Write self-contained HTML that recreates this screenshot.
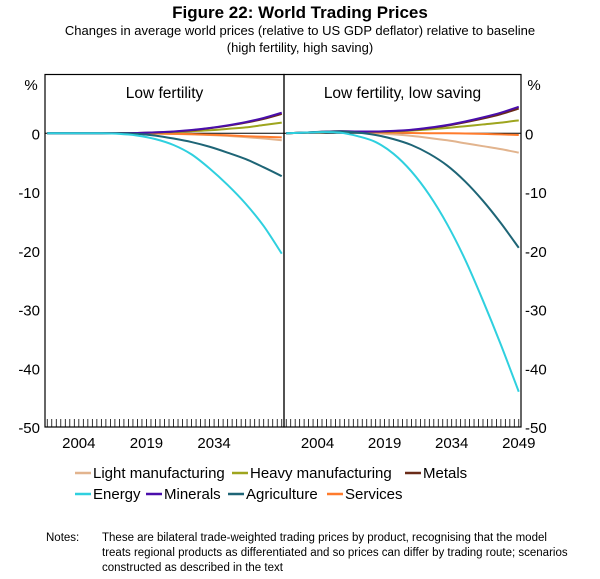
<!DOCTYPE html>
<html><head><meta charset="utf-8"><style>
body{margin:0;background:#fff;width:600px;height:574px;overflow:hidden;font-family:"Liberation Sans",Arial,sans-serif;}
</style></head><body>
<svg id="c" width="600" height="574" viewBox="0 0 600 574" style="font-family:'Liberation Sans',Arial,sans-serif">
<text x="300" y="18" text-anchor="middle" font-size="17" font-weight="bold" fill="#000">Figure 22: World Trading Prices</text>
<text x="300" y="35" text-anchor="middle" font-size="13" fill="#000">Changes in average world prices (relative to US GDP deflator) relative to baseline</text>
<text x="300" y="52" text-anchor="middle" font-size="13" fill="#000">(high fertility, high saving)</text>
<g id="plot"></g>
<g id="legend"></g>
<text x="46" y="541" font-size="11.5" fill="#000">Notes:</text>
<text x="102" y="541" font-size="11.5" fill="#000">These are bilateral trade-weighted trading prices by product, recognising that the model</text>
<text x="102" y="556" font-size="11.5" fill="#000">treats regional products as differentiated and so prices can differ by trading route; scenarios</text>
<text x="102" y="571" font-size="11.5" fill="#000">constructed as described in the text</text>
</svg>
<script>
const years=[1997,2001,2005,2009,2013,2017,2021,2025,2029,2033,2037,2041,2045,2049];
const yTicks=[0,-10,-20,-30,-40,-50];
const xLabelsLeft=[2004,2019,2034];
const xLabelsRight=[2004,2019,2034,2049];
const seriesNames=["Light manufacturing","Heavy manufacturing","Metals","Energy","Minerals","Agriculture","Services"];
const seriesColors=["#e2b48e","#9ea51e","#6a2b18","#2fd0df","#4a0eab","#1e6576","#ff7b2c"];
const leftLight=[0,0,0,0,0,0,-0.05,-0.1,-0.2,-0.3,-0.45,-0.65,-0.9,-1.2];
const leftHeavy=[0,0,0,0,0,0,0.1,0.2,0.35,0.5,0.75,1.0,1.4,1.8];
const leftMetals=[0,0,0,0,0,0.05,0.14,0.28,0.5,0.85,1.28,1.8,2.45,3.3];
const leftEnergy=[0,0,0,0,-0.1,-0.4,-1.0,-2.0,-3.6,-6.0,-8.8,-12,-15.8,-20.5];
const leftMinerals=[0,0,0,0,0,0.05,0.15,0.3,0.55,0.9,1.35,1.9,2.6,3.5];
const leftAgri=[0,0,0,0,0,-0.1,-0.4,-0.9,-1.5,-2.3,-3.3,-4.4,-5.8,-7.3];
const leftServices=[0,0,0,0,0,0,-0.05,-0.1,-0.15,-0.25,-0.35,-0.5,-0.6,-0.7];
const rightLight=[0,0.1,0.2,0.25,0.15,0,-0.2,-0.45,-0.8,-1.2,-1.7,-2.2,-2.7,-3.3];
const rightHeavy=[0,0.1,0.2,0.3,0.25,0.25,0.3,0.45,0.65,0.9,1.2,1.5,1.8,2.2];
const rightMetals=[0,0.1,0.23,0.33,0.28,0.28,0.37,0.56,0.88,1.3,1.86,2.5,3.25,4.2];
const rightEnergy=[0,0.1,0.2,0.1,-0.5,-1.5,-3.5,-6.5,-10.5,-15.5,-21.5,-28.5,-36,-44];
const rightMinerals=[0,0.1,0.25,0.35,0.3,0.3,0.4,0.6,0.95,1.4,2.0,2.7,3.5,4.5];
const rightAgri=[0,0.1,0.25,0.3,0.1,-0.3,-1.0,-2.0,-3.5,-5.5,-8.2,-11.5,-15.3,-19.5];
const rightServices=[0,0.1,0.2,0.25,0.2,0.15,0.1,0.05,0,0,-0.05,-0.1,-0.2,-0.3];
const leftData=[leftLight,leftHeavy,leftMetals,leftEnergy,leftMinerals,leftAgri,leftServices];
const rightData=[rightLight,rightHeavy,rightMetals,rightEnergy,rightMinerals,rightAgri,rightServices];
const drawOrder=[0,6,1,2,4,5,3];

const NS="http://www.w3.org/2000/svg";
const plot=document.getElementById('plot');
const top_=74.5,bot=427,y0=10,y1=-50;
const panels=[{x0:45,x1:284,title:"Low fertility",data:leftData,labels:xLabelsLeft,id:"left"},
              {x0:284,x1:521,title:"Low fertility, low saving",data:rightData,labels:xLabelsRight,id:"right"}];
const yMin=1996.5,yMax=2049.5;
function sy(v){return top_+(y0-v)/(y0-y1)*(bot-top_);}
function mk(tag,attrs,parent){const e=document.createElementNS(NS,tag);for(const k in attrs)e.setAttribute(k,attrs[k]);(parent||plot).appendChild(e);return e;}
function smooth(pts){let d="M"+pts[0][0]+","+pts[0][1];for(let i=0;i<pts.length-1;i++){const p0=pts[i-1]||pts[i],p1=pts[i],p2=pts[i+1],p3=pts[i+2]||p2;
 const c1x=p1[0]+(p2[0]-p0[0])/6,c1y=p1[1]+(p2[1]-p0[1])/6,c2x=p2[0]-(p3[0]-p1[0])/6,c2y=p2[1]-(p3[1]-p1[1])/6;
 d+=" C"+c1x+","+c1y+" "+c2x+","+c2y+" "+p2[0]+","+p2[1];}return d;}
panels.forEach(p=>{
 const sx=yr=>p.x0+(yr-yMin)/(yMax-yMin)*(p.x1-p.x0);
 const g=mk('g',{});
 
 
 const zl=mk('line',{x1:p.x0,x2:p.x1,y1:sy(0),y2:sy(0),stroke:'#000','stroke-width':1},g);
 
 
 for(let yr=1997;yr<=2049;yr++){const t=mk('line',{x1:sx(yr),x2:sx(yr),y1:bot,y2:bot-8,stroke:'#000','stroke-width':0.8},g);
  
  }
 p.labels.forEach(l=>{const t=mk('text',{x:sx(l),y:bot+21,'text-anchor':'middle','font-size':15,fill:'#000'},g);t.textContent=l;
  
  });
 drawOrder.forEach(si=>{const pts=years.map((yr,i)=>[sx(yr),sy(p.data[si][i])]);
  const path=mk('path',{d:smooth(pts),fill:'none',stroke:seriesColors[si],'stroke-width':2},g);
  
  });
 const fr=mk('rect',{x:p.x0,y:top_,width:p.x1-p.x0,height:bot-top_,fill:'none',stroke:'#000','stroke-width':1.2},g);
 
 
 const tt=mk('text',{x:(p.x0+p.x1)/2,y:98,'text-anchor':'middle','font-size':15.5,fill:'#000'},g);tt.textContent=p.title;
 
 
});
yTicks.forEach(v=>{
 const a=mk('text',{x:40,y:sy(v)+6,'text-anchor':'end','font-size':15,fill:'#000'});a.textContent=v;
 
 
 const b=mk('text',{x:525,y:sy(v)+6,'text-anchor':'start','font-size':15,fill:'#000'});b.textContent=v;
 
 
});
const pl=mk('text',{x:31,y:90,'text-anchor':'middle','font-size':15,fill:'#000'});pl.textContent='%';


const pr=mk('text',{x:534,y:90,'text-anchor':'middle','font-size':15,fill:'#000'});pr.textContent='%';


const lg=document.getElementById('legend');
const legPos=[[75,478],[232,478],[405,478],[75,499],[146,499],[228,499],[327,499]];
seriesNames.forEach((n,i)=>{
 const g=mk('g',{},lg);
 
 
 mk('line',{x1:legPos[i][0],x2:legPos[i][0]+16,y1:legPos[i][1]-5,y2:legPos[i][1]-5,stroke:seriesColors[i],'stroke-width':2.5},g);
 const t=mk('text',{x:legPos[i][0]+18,y:legPos[i][1],'font-size':15,fill:'#000'},g);t.textContent=n;
});
</script>
</body></html>
